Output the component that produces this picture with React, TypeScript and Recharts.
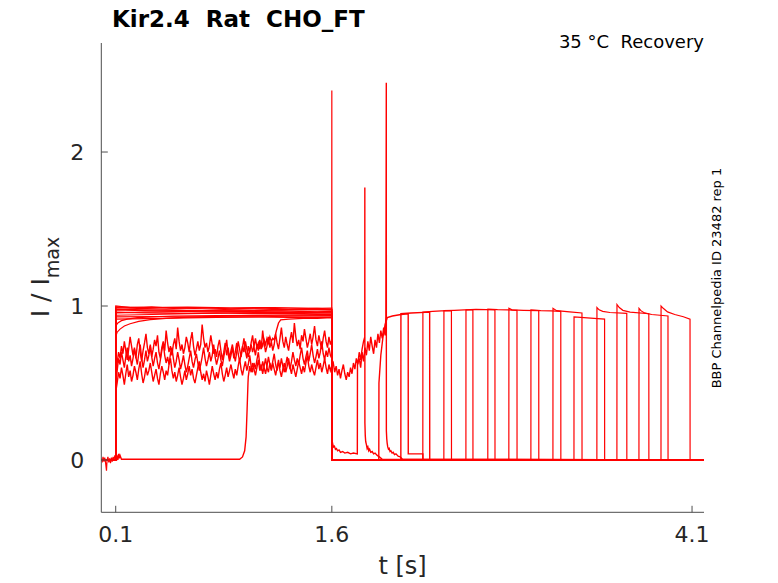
import React from 'react';
import { LineChart, Line, XAxis, YAxis } from 'recharts';

// ---------- axes ----------
const xTicks = [0.1, 1.6, 4.1];
const yTicks = [0, 1, 2];
const X_DOMAIN: [number, number] = [0, 4.183];
const Y_DOMAIN: [number, number] = [-0.3396, 2.708];
const END_T = 4.183;

const noiseStep = 0.01;

// sweep 1, pulse 1 (t = 0.10 .. 1.60)
const n1P1 = [
  0.52, 0.63, 0.7, 0.66, 0.74, 0.69, 0.77, 0.71, 0.65, 0.72,
  0.8, 0.74, 0.68, 0.73, 0.66, 0.75, 0.79, 0.7, 0.64, 0.71,
  0.76, 0.82, 0.73, 0.69, 0.75, 0.67, 0.72, 0.78, 0.74, 0.81,
  0.7, 0.66, 0.73, 0.77, 0.71, 0.84, 0.76, 0.7, 0.74, 0.68,
  0.75, 0.79, 0.72, 0.86, 0.77, 0.71, 0.75, 0.69, 0.73, 0.8,
  0.76, 0.7, 0.78, 0.83, 0.74, 0.68, 0.72, 0.77, 0.71, 0.75,
  0.88, 0.79, 0.73, 0.76, 0.7, 0.74, 0.81, 0.75, 0.69, 0.72,
  0.67, 0.74, 0.78, 0.71, 0.65, 0.7, 0.76, 0.68, 0.73, 0.66,
  0.71, 0.75, 0.69, 0.64, 0.7, 0.77, 0.72, 0.67, 0.73, 0.79,
  0.71, 0.66, 0.74, 0.7, 0.76, 0.81, 0.73, 0.68, 0.75, 0.71,
  0.78, 0.72, 0.84, 0.76, 0.7, 0.74, 0.8, 0.73, 0.77, 0.71,
  0.75, 0.82, 0.76, 0.72, 0.79, 0.86, 0.77, 0.73, 0.8, 0.75,
  0.71, 0.78, 0.83, 0.76, 0.89, 0.8, 0.74, 0.78, 0.72, 0.81,
  0.77, 0.85, 0.79, 0.73, 0.77, 0.82, 0.75, 0.8, 0.87, 0.78,
  0.74, 0.81, 0.76, 0.72, 0.79, 0.84, 0.77, 0.73, 0.8, 0.75,
  0.78,
];
// sweep 0, pulse 1 (t = 0.10 .. 1.60)
const n2P1 = [
  0.44, 0.5, 0.57, 0.53, 0.6, 0.55, 0.49, 0.56, 0.62, 0.54,
  0.58, 0.51, 0.55, 0.61, 0.57, 0.52, 0.59, 0.64, 0.56, 0.5,
  0.54, 0.6, 0.55, 0.58, 0.63, 0.57, 0.51, 0.55, 0.59, 0.53,
  0.49, 0.56, 0.61, 0.57, 0.52, 0.58, 0.55, 0.62, 0.66, 0.58,
  0.53, 0.57, 0.51, 0.55, 0.6, 0.54, 0.49, 0.53, 0.58, 0.52,
  0.56, 0.61, 0.55, 0.59, 0.53, 0.5, 0.55, 0.6, 0.64, 0.57,
  0.52, 0.56, 0.51, 0.58, 0.54, 0.49, 0.55, 0.61, 0.56, 0.52,
  0.57, 0.53, 0.59, 0.63, 0.56, 0.51, 0.55, 0.6, 0.54, 0.58,
  0.62, 0.57, 0.53, 0.59, 0.55, 0.61, 0.66, 0.59, 0.55, 0.6,
  0.64, 0.58, 0.62, 0.68, 0.61, 0.57, 0.63, 0.59, 0.65, 0.7,
  0.62, 0.58, 0.64, 0.6, 0.56, 0.61, 0.67, 0.62, 0.58, 0.63,
  0.59, 0.55, 0.6, 0.65, 0.58, 0.54, 0.59, 0.63, 0.57, 0.61,
  0.66, 0.6, 0.56, 0.62, 0.58, 0.54, 0.59, 0.64, 0.6, 0.56,
  0.61, 0.57, 0.63, 0.68, 0.61, 0.57, 0.62, 0.58, 0.55, 0.6,
  0.65, 0.59, 0.63, 0.57, 0.61, 0.66, 0.6, 0.56, 0.62, 0.58,
  0.61,
];
// sweep 2, pulse 1 (t = 0.10 .. 1.20), before it joins the upper band
const n3P1 = [
  0.48, 0.58, 0.66, 0.62, 0.7, 0.65, 0.6, 0.67, 0.73, 0.64,
  0.68, 0.61, 0.66, 0.72, 0.67, 0.62, 0.69, 0.75, 0.66, 0.6,
  0.65, 0.71, 0.64, 0.68, 0.74, 0.67, 0.61, 0.66, 0.7, 0.63,
  0.59, 0.65, 0.71, 0.76, 0.68, 0.63, 0.67, 0.62, 0.69, 0.73,
  0.66, 0.6, 0.64, 0.7, 0.65, 0.59, 0.63, 0.68, 0.62, 0.57,
  0.61, 0.66, 0.71, 0.64, 0.6, 0.65, 0.69, 0.63, 0.58, 0.62,
  0.67, 0.73, 0.66, 0.61, 0.65, 0.7, 0.64, 0.68, 0.75, 0.67,
  0.62, 0.66, 0.71, 0.65, 0.61, 0.67, 0.72, 0.78, 0.69, 0.64,
  0.68, 0.73, 0.66, 0.7, 0.76, 0.69, 0.64, 0.68, 0.74, 0.7,
  0.77, 0.72, 0.67, 0.71, 0.75, 0.7, 0.74, 0.79, 0.73, 0.76,
  0.72, 0.77, 0.74, 0.78, 0.75, 0.79, 0.76, 0.8, 0.77, 0.79,
  0.78,
];
// sweep 3, late-activating trace (t = 1.02 .. 1.59)
const zP1 = [
  0.54, 0.61, 0.57, 0.63, 0.59, 0.55, 0.6, 0.65, 0.58, 0.62,
  0.56, 0.61, 0.66, 0.6, 0.57, 0.63, 0.59, 0.64, 0.69, 0.62,
  0.58, 0.63, 0.6, 0.66, 0.61, 0.57, 0.62, 0.67, 0.63, 0.59,
  0.64, 0.7, 0.65, 0.61, 0.66, 0.62, 0.68, 0.73, 0.66, 0.62,
  0.67, 0.71, 0.64, 0.69, 0.75, 0.68, 0.63, 0.67, 0.72, 0.66,
  0.7, 0.77, 0.69, 0.65, 0.71, 0.67, 0.73, 0.68,
];
// sweep 0 after 1.6 s (t = 1.61 .. 1.82)
const n0Gap = [0.63, 0.57, 0.61, 0.55, 0.59, 0.53, 0.58, 0.62, 0.56, 0.52, 0.57, 0.54, 0.6, 0.56, 0.63, 0.59, 0.66, 0.62, 0.7, 0.65, 0.72, 0.77];
// sweep 1 during its second pulse (t = 1.79 .. 1.97)
const n1Gap = [0.66, 0.6, 0.7, 0.64, 0.73, 0.68, 0.77, 0.71, 0.8, 0.74, 0.69, 0.78, 0.73, 0.82, 0.76, 0.84, 0.79, 0.86, 0.81];

// ---------- short literal segments ----------
const baseFlat = [[0, 0], [0.1, 0]];
const baseNoisy = [
  [0, 0.01], [0.006, -0.015], [0.012, 0.02], [0.018, -0.01], [0.024, 0.015], [0.03, -0.02],
  [0.036, -0.07], [0.04, 0.0], [0.046, 0.02], [0.052, -0.015], [0.058, 0.01], [0.064, -0.02],
  [0.07, 0.015], [0.076, -0.01], [0.082, 0.02], [0.088, -0.005], [0.094, 0.03], [0.1, 0.01],
];
const tail1 = [
  [1.6005, 0.16], [1.603, 0.12], [1.607, 0.1], [1.612, 0.085], [1.618, 0.09], [1.625, 0.07],
  [1.632, 0.075], [1.64, 0.06], [1.65, 0.065], [1.66, 0.05], [1.675, 0.055], [1.69, 0.045],
  [1.71, 0.05], [1.73, 0.04], [1.75, 0.045], [1.777, 0.04],
];
const tail2 = [
  [1.832, 0.16], [1.835, 0.12], [1.84, 0.1], [1.845, 0.075], [1.85, 0.085], [1.856, 0.06],
  [1.862, 0.07], [1.87, 0.05], [1.88, 0.055], [1.89, 0.04], [1.9, 0.045], [1.915, 0.03],
  [1.93, 0.02], [1.95, 0.005],
];
const tail3 = [
  [1.981, 0.14], [1.984, 0.11], [1.988, 0.085], [1.993, 0.07], [1.998, 0.075], [2.004, 0.055],
  [2.01, 0.06], [2.018, 0.045], [2.026, 0.05], [2.035, 0.035], [2.045, 0.04], [2.06, 0.025],
  [2.075, 0.02], [2.09, 0.005],
];

// pulse-1 levels of the steady sweeps 4..15
const p1Steady = [
  [[0.1005, 0.8], [0.11, 0.83], [0.13, 0.85], [0.16, 0.87], [0.2, 0.885], [0.26, 0.9], [0.34, 0.912], [0.45, 0.92], [0.6, 0.928], [0.8, 0.933], [1.0, 0.937], [1.2, 0.94], [1.4, 0.942], [1.6, 0.945]],
  [[0.1005, 0.87], [0.115, 0.89], [0.14, 0.905], [0.18, 0.915], [0.25, 0.925], [0.35, 0.93], [0.5, 0.935], [0.8, 0.938], [1.2, 0.94], [1.6, 0.94]],
  [[0.1005, 1.0], [0.2, 0.99], [0.35, 0.995], [0.5, 0.985], [0.7, 0.99], [0.9, 0.982], [1.1, 0.988], [1.3, 0.98], [1.5, 0.985], [1.599, 0.98], [1.6, 2.4]],
  [[0.1005, 0.99], [0.25, 0.985], [0.45, 0.98], [0.65, 0.984], [0.85, 0.978], [1.05, 0.982], [1.25, 0.976], [1.45, 0.98], [1.6, 0.975]],
  [[0.1005, 0.975], [0.3, 0.97], [0.5, 0.966], [0.75, 0.97], [1.0, 0.965], [1.25, 0.968], [1.5, 0.962], [1.6, 0.965]],
  [[0.1005, 0.955], [0.3, 0.96], [0.55, 0.964], [0.8, 0.968], [1.05, 0.97], [1.3, 0.974], [1.6, 0.976]],
  [[0.1005, 0.96], [0.3, 0.955], [0.55, 0.952], [0.8, 0.955], [1.05, 0.95], [1.3, 0.952], [1.6, 0.948]],
  [[0.1005, 0.94], [0.35, 0.945], [0.6, 0.95], [0.9, 0.955], [1.2, 0.958], [1.6, 0.962]],
  [[0.1005, 0.93], [0.4, 0.932], [0.7, 0.928], [1.0, 0.93], [1.3, 0.926], [1.6, 0.928]],
  [[0.1005, 0.98], [0.3, 0.975], [0.6, 0.97], [0.9, 0.965], [1.2, 0.96], [1.6, 0.955]],
  [[0.1005, 0.915], [0.4, 0.92], [0.8, 0.926], [1.2, 0.932], [1.6, 0.938]],
  [[0.1005, 0.995], [0.3, 0.99], [0.6, 0.993], [0.9, 0.988], [1.2, 0.99], [1.5, 0.985], [1.6, 0.987]],
];
// second pulse (rise .. fall) of sweeps 4..15
const p2Steady = [
  [[2.232, 0.96], [2.3, 0.965], [2.36, 0.968], [2.43, 0.97]],
  [[2.378, 0.97], [2.45, 0.972], [2.52, 0.975], [2.579, 0.974]],
  [[2.531, 0.975], [2.6, 0.978], [2.67, 0.976], [2.732, 0.975]],
  [[2.683, 0.98], [2.75, 0.976], [2.82, 0.975], [2.885, 0.972]],
  [[2.829, 0.985], [2.85, 0.975], [2.93, 0.972], [3.036, 0.97]],
  [[2.982, 0.975], [3.05, 0.97], [3.12, 0.968], [3.189, 0.965]],
  [[3.135, 0.985], [3.16, 0.97], [3.25, 0.962], [3.336, 0.955]],
  [[3.281, 0.93], [3.35, 0.925], [3.42, 0.92], [3.493, 0.915]],
  [[3.44, 0.99], [3.455, 0.975], [3.48, 0.965], [3.53, 0.958], [3.647, 0.952]],
  [[3.579, 1.01], [3.595, 0.99], [3.62, 0.972], [3.67, 0.96], [3.8, 0.95]],
  [[3.732, 0.985], [3.745, 0.97], [3.77, 0.955], [3.82, 0.945], [3.933, 0.935]],
  [[3.885, 1.0], [3.9, 0.985], [3.93, 0.962], [3.98, 0.945], [4.04, 0.93], [4.086, 0.915]],
];

// ---------- assembly ----------
type Pt = { t: number; v: number };
const P = (pairs: number[][]): Pt[] => pairs.map(([t, v]) => ({ t, v }));
const onGrid = (t0: number, vals: number[]): Pt[] =>
  vals.map((v, i) => ({ t: +(t0 + i * noiseStep).toFixed(4), v }));

const sweep0: Pt[] = [
  ...P(baseFlat), ...onGrid(0.1, n2P1), ...onGrid(1.61, n0Gap),
  ...P([[1.8285, 0.8], [1.829, 1.77], [1.8295, 0.24]]), ...P(tail2), ...P([[END_T, 0]]),
];
const sweep1: Pt[] = [
  ...P(baseFlat), ...onGrid(0.1, n1P1), ...P(tail1), ...P([[1.778, 0.62]]), ...onGrid(1.79, n1Gap),
  ...P([[1.975, 0.93], [1.978, 2.45], [1.9785, 0.19]]), ...P(tail3), ...P([[END_T, 0]]),
];
const sweep2: Pt[] = [
  ...P(baseFlat), ...onGrid(0.1, n3P1),
  ...P([[1.215, 0.84], [1.23, 0.89], [1.245, 0.91], [1.3, 0.915], [1.4, 0.92], [1.5, 0.92], [1.6, 0.925], [1.6005, 0],
    [1.926, 0], [1.927, 0.5], [1.94, 0.68], [1.955, 0.8], [1.97, 0.88], [1.985, 0.925], [2.02, 0.935], [2.08, 0.945],
    [2.13, 0.95], [2.1305, 0.04], [2.232, 0.04], [2.2325, 0], [END_T, 0]]),
];
const sweep3: Pt[] = [
  ...P([[0, 0], [0.1, 0], [0.11, 0.02], [0.115, 0], [0.12, 0.04], [0.125, 0.01], [0.13, 0.03], [0.14, 0.005],
    [0.5, 0.005], [0.96, 0.005], [0.98, 0.02], [0.995, 0.06], [1.005, 0.15], [1.012, 0.33], [1.018, 0.5]]),
  ...onGrid(1.02, zP1),
  ...P([[1.6, 0.66], [1.6005, 0], [2.079, 0], [2.0795, 0.95], [2.15, 0.955], [2.279, 0.96], [2.2795, 0], [END_T, 0]]),
];
const steadySweeps: Pt[][] = p1Steady.map((p1, i) => {
  const p2 = p2Steady[i];
  const rise = p2[0][0];
  const fall = p2[p2.length - 1][0];
  return [
    ...P(i === 2 ? baseNoisy : baseFlat),
    ...P(p1),
    ...P([[1.6005, 0], [rise - 0.0005, 0]]),
    ...P(p2),
    ...P([[fall + 0.0005, 0], [END_T, 0]]),
  ];
});
const sweeps: Pt[][] = [sweep0, sweep1, sweep2, sweep3, ...steadySweeps];
const noisyCount = 4;

// ---------- styling ----------
const FONT = '"DejaVu Sans", sans-serif';
const AXIS = '#4d4d4d';
const TXT = '#262626';

const XTick = (props: any) => {
  const { x, y, payload } = props;
  return (
    <g>
      <line x1={x} x2={x} y1={y} y2={y - 6.5} stroke={AXIS} strokeWidth={1} />
      <text x={x} y={y + 30} textAnchor="middle" fontSize={22} fontFamily={FONT} fill={TXT}>
        {payload.value}
      </text>
    </g>
  );
};
const YTick = (props: any) => {
  const { x, y, payload } = props;
  return (
    <g>
      <line x1={x} x2={x + 6.5} y1={y} y2={y} stroke={AXIS} strokeWidth={1} />
      <text x={x - 17} y={y + 8} textAnchor="end" fontSize={22} fontFamily={FONT} fill={TXT}>
        {payload.value}
      </text>
    </g>
  );
};

export default function App() {
  return (
    <div style={{ position: 'fixed', left: 0, top: 0, width: 778, height: 583, background: '#ffffff' }}>
      <LineChart width={778} height={583} margin={{ top: 43, right: 74, bottom: 30.7, left: 41.3 }}>
        <XAxis
          type="number"
          dataKey="t"
          domain={X_DOMAIN}
          ticks={xTicks}
          interval={0}
          allowDataOverflow
          height={40}
          tickSize={0}
          tickMargin={0}
          tickLine={false}
          axisLine={{ stroke: AXIS, strokeWidth: 1 }}
          tick={(p: any) => <XTick {...p} />}
        />
        <YAxis
          type="number"
          domain={Y_DOMAIN}
          ticks={yTicks}
          interval={0}
          allowDataOverflow
          width={60}
          tickSize={0}
          tickMargin={0}
          tickLine={false}
          axisLine={{ stroke: AXIS, strokeWidth: 1 }}
          tick={(p: any) => <YTick {...p} />}
        />
        {sweeps.map((d, i) => (
          <Line
            key={i}
            data={d}
            dataKey="v"
            type="linear"
            stroke="#ff0000"
            strokeWidth={i < noisyCount ? 1.4 : 1.2}
            dot={false}
            activeDot={false}
            isAnimationActive={false}
          />
        ))}
      </LineChart>
      <svg width={778} height={583} style={{ position: 'absolute', left: 0, top: 0, pointerEvents: 'none' }}>
        <text x={112} y={26.5} fontSize={23} fontWeight="bold" fontFamily={FONT} fill="#000" style={{ whiteSpace: 'pre' }}>
          {'Kir2.4  Rat  CHO_FT'}
        </text>
        <text x={704} y={47.5} fontSize={18} textAnchor="end" fontFamily={FONT} fill="#000" style={{ whiteSpace: 'pre' }}>
          {'35 °C  Recovery'}
        </text>
        <text x={721} y={278} fontSize={13} textAnchor="middle" fontFamily={FONT} fill="#000" transform="rotate(-90 721 278)">
          BBP Channelpedia ID 23482 rep 1
        </text>
        <text x={49} y={277} fontSize={25} textAnchor="middle" fontFamily={FONT} fill={TXT} transform="rotate(-90 49 277)">
          I / I<tspan fontSize={19} dy={10}>max</tspan>
        </text>
        <text x={402.6} y={574} fontSize={24} textAnchor="middle" fontFamily={FONT} fill={TXT}>
          t [s]
        </text>
      </svg>
    </div>
  );
}
